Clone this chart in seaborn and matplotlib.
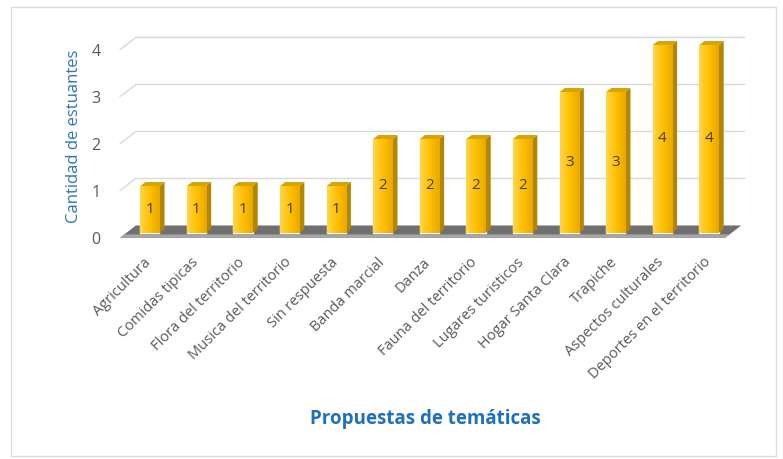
import numpy as np
import matplotlib
matplotlib.use("Agg")
import matplotlib.pyplot as plt
import matplotlib.transforms as mtransforms
import seaborn as sns
import pandas as pd
from matplotlib.patches import Polygon, Rectangle

tematicas = ["Agricultura", "Comidas tipicas", "Flora del territorio", "Musica del territorio",
             "Sin respuesta", "Banda marcial", "Danza", "Fauna del territorio",
             "Lugares turisticos", "Hogar Santa Clara", "Trapiche", "Aspectos culturales",
             "Deportes en el territorio"]
cantidad = [1, 1, 1, 1, 1, 2, 2, 2, 2, 3, 3, 4, 4]
ticks_y = [0, 1, 2, 3, 4]

df = pd.DataFrame({"tema": tematicas, "n": cantidad})

sns.set_style("white")
plt.rcParams['font.family'] = ['Open Sans', 'DejaVu Sans']

fig = plt.figure(figsize=(7.83, 4.59), dpi=100)
ax = fig.add_axes([0.1533, 0.4719, 0.798, 0.4608])

oro = "#FFC000"
sns.barplot(data=df, x="tema", y="n", color=oro, width=0.41, saturation=1, ax=ax, zorder=3)

ax.set_xlim(-0.64, 12.77)
ax.set_ylim(-0.2, 4.3)

# efecto 3d: pared, piso, caras laterales
dx_pared = 0.34
x_izq, x_der = -0.64, 12.35
for v in ticks_y[1:]:
    ax.plot([x_izq, x_izq + dx_pared, 12.77], [v - 0.1, v + 0.16, v + 0.16],
            color="#d9d9d9", lw=1, zorder=1, clip_on=False)
piso = Polygon([(x_izq, -0.1), (x_der, -0.1), (x_der + dx_pared, 0.16), (x_izq + dx_pared, 0.16)],
               closed=True, facecolor="#6f6f6f", edgecolor="none", zorder=2)
ax.add_patch(piso)
piso2 = Polygon([(x_izq, -0.1), (x_der, -0.1), (x_der + 0.1, -0.03), (x_izq + 0.1, -0.03)],
                closed=True, facecolor="#a6a6a6", edgecolor="none", zorder=2)
ax.add_patch(piso2)

grad = np.linspace(0, 1, 64).reshape(1, -1)
cmap = matplotlib.colors.LinearSegmentedColormap.from_list("oro", ["#FFD54A", "#FFC000", "#E8A800"])
ddx, ddy = 0.11, 0.085
for p in ax.patches[:len(cantidad)]:
    x0, y0 = p.get_x(), p.get_y()
    w, h = p.get_width(), p.get_height()
    lado = Polygon([(x0 + w, y0), (x0 + w + ddx, y0 + ddy), (x0 + w + ddx, y0 + h + ddy), (x0 + w, y0 + h)],
                   closed=True, facecolor="#B38600", edgecolor="none", zorder=3)
    ax.add_patch(lado)
    tapa = Polygon([(x0, y0 + h), (x0 + w, y0 + h), (x0 + w + ddx, y0 + h + ddy), (x0 + ddx, y0 + h + ddy)],
                   closed=True, facecolor="#D9A400", edgecolor="none", zorder=3)
    ax.add_patch(tapa)
    im = ax.imshow(grad, extent=[x0, x0 + w, y0, y0 + h], cmap=cmap, aspect="auto", zorder=4)
    im.set_clip_path(p)

ax.bar_label(ax.containers[0], label_type="center", color="#404040", fontsize=11, zorder=5)
for t in ax.texts:
    t.set_zorder(6)

ax.set_yticks([v - 0.1 for v in ticks_y])
ax.set_yticklabels([str(v) for v in ticks_y], color="#595959", fontsize=11.5)
ax.tick_params(axis="y", length=0, pad=14)
ax.tick_params(axis="x", length=0, pad=9)
ax.set_xticks(range(len(tematicas)))
ax.set_xticklabels(tematicas, rotation=45, ha="right", rotation_mode="anchor",
                   color="#595959", fontsize=10.5)
desplazar = mtransforms.ScaledTranslation(-6 / 100, 0, fig.dpi_scale_trans)
for lbl in ax.get_xticklabels():
    lbl.set_transform(lbl.get_transform() + desplazar)
ax.set_xlabel("")
ax.set_ylabel("Cantidad de estuantes", color="#2E75B6", fontsize=12, labelpad=7)
sns.despine(ax=ax, left=True, bottom=True)

fig.text(0.543, 0.088, "Propuestas de temáticas", color="#1F6FBF", fontsize=13.5,
         fontweight="bold", ha="center", va="center")

fig.patches.append(Rectangle((11 / 783, 1 - 456 / 459), 765 / 783, 449 / 459,
                             transform=fig.transFigure, fill=False, edgecolor="#dcdcdc", lw=1))

fig.savefig("out.png", dpi=100)
